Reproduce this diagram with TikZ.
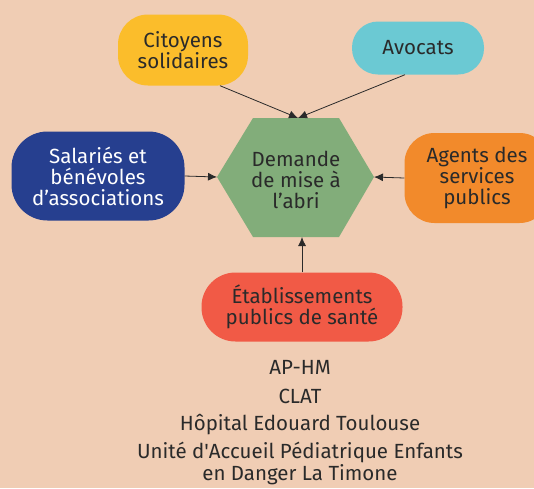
\documentclass[tikz,border=0pt]{standalone}
\usepackage{fontspec}
\setmainfont{Fira Sans}
\usetikzlibrary{arrows.meta}
\definecolor{fond}{RGB}{240,205,180}
\definecolor{jaune}{RGB}{251,189,43}
\definecolor{turquoise}{RGB}{107,201,211}
\definecolor{bleu}{RGB}{38,63,143}
\definecolor{orange}{RGB}{242,138,43}
\definecolor{rouge}{RGB}{241,90,70}
\definecolor{vert}{RGB}{130,173,122}
\definecolor{texte}{RGB}{42,42,42}
\begin{document}
\begin{tikzpicture}[x=1pt, y=-1pt,
        boite/.style={rounded corners=#1, inner sep=0pt, align=center, text=texte,
            font=\fontsize{20.5}{21}\selectfont},
        boite/.default=30pt,
        liste/.style={text=texte, align=center, font=\fontsize{20.5}{22}\selectfont},
        fleche/.style={-{Latex[length=9pt,width=8pt]}, thick, draw=texte}]
        % fond
        \fill[fond] (0,0) rectangle (534,488);
        \clip (0,0) rectangle (534,488);
        % hexagone central
        \coordinate (hexG) at (217,177);
        \coordinate (hexD) at (374,177);
        \coordinate (hexH) at (298,118);
        \coordinate (hexB) at (302,237);
        \fill[vert] (hexG) -- (253,118) -- (339,118) -- (hexD) -- (339,237) -- (253,237) -- cycle;
        \node[boite] (dem) at (296,180) {Demande\\de mise à\\l’abri};
        % acteurs
        \node[boite, fill=jaune, minimum width=130pt, minimum height=71pt] (cit) at (183,50) {Citoyens\\solidaires};
        \node[boite=26pt, fill=turquoise, minimum width=132pt, minimum height=53pt] (avo) at (418,48) {Avocats};
        \node[boite=36pt, fill=bleu, text=white, minimum width=173pt, minimum height=89pt] (sal) at (98,176) {Salariés et\\bénévoles\\d’associations};
        \node[boite, fill=orange, minimum width=145pt, minimum height=90pt] (age) at (477,178) {Agents des\\services\\publics};
        \node[boite=34pt, fill=rouge, minimum width=201pt, minimum height=69pt] (eta) at (302,307) {Établissements\\publics de santé};
        % fleches
        \draw[fleche] ([xshift=37pt]cit.south) -- (hexH);
        \draw[fleche] ([xshift=-13pt]avo.south) -- (hexH);
        \draw[fleche] (sal.east) -- (hexG);
        \draw[fleche] (age.west) -- (hexD);
        \draw[fleche] (eta.north) -- (hexB);
        % etablissements
        \foreach \y/\nom/\txt in {367/aphm/AP-HM, 396/clat/CLAT, 425/hopital/Hôpital Edouard Toulouse} {
            \node[liste] (\nom) at (300,\y) {\txt};
        }
        \node[liste] (uape) at (300,463) {Unité d\textquotesingle Accueil Pédiatrique Enfants\\en Danger La Timone};
    \end{tikzpicture}
\end{document}
